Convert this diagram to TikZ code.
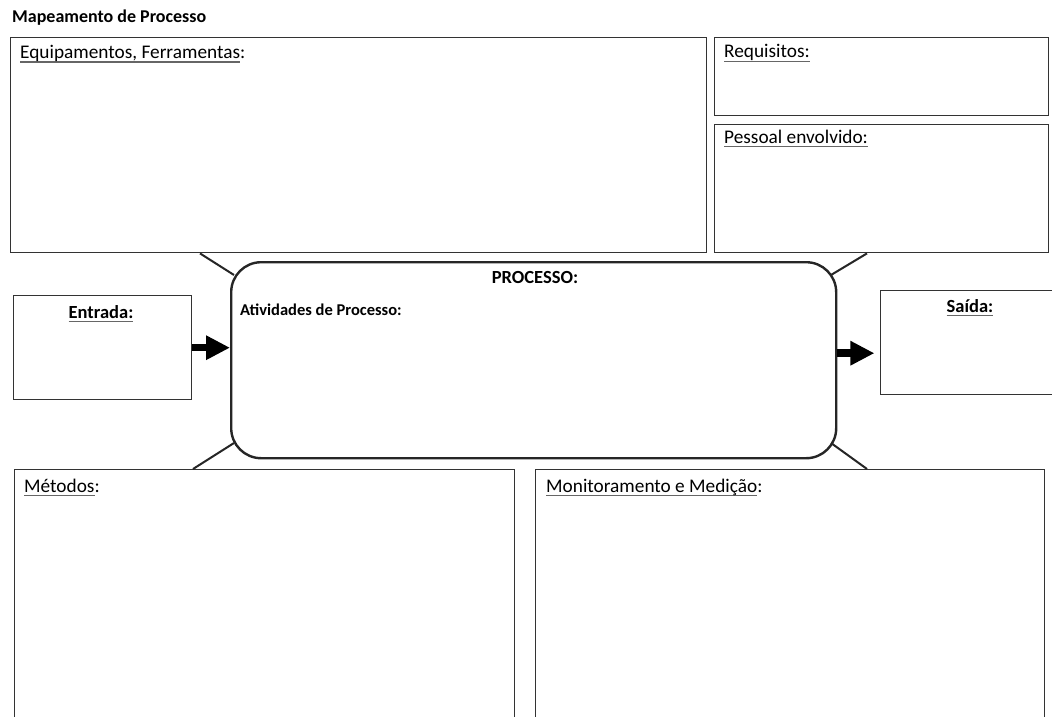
\documentclass[tikz,border=0pt]{standalone}
\usepackage{fontspec}
\setmainfont{Carlito}
\usetikzlibrary{arrows.meta,calc}
% underline at a fixed depth, so descenders do not push it down
\newcommand\undl[1]{\setbox0=\hbox{#1}\rlap{\color{black!60}\rule[-3.6pt]{\wd0}{1.1pt}}\box0}
\begin{document}
\begin{tikzpicture}[x=1pt,y=-1pt,
  box/.style={draw=black!80, line width=1.4pt, rectangle, anchor=north west, inner sep=0pt},
  procbox/.style={draw=black!85, line width=2.4pt, rectangle, rounded corners=30pt, anchor=north west, inner sep=0pt},
  txt/.style={anchor=base west, inner sep=0pt, font=\fontsize{19.3}{23}\selectfont},
  link/.style={draw=black!85, line width=2pt},
  flow/.style={line width=7.5pt, -{Triangle[length=24pt,width=23pt]}}]
\useasboundingbox (0,0) rectangle (1052,717);
\clip (0,0) rectangle (1052,717);

% title
\node[txt, font=\fontsize{18}{22}\selectfont\bfseries] (title) at (12,23) {Mapeamento de Processo};

% upper boxes
\node[box, minimum width=696pt, minimum height=215pt] (equip) at (10,37) {};
\node[box, minimum width=334pt, minimum height=78pt] (req) at (714,37) {};
\node[box, minimum width=334pt, minimum height=128pt] (pess) at (714,124) {};

% middle row
\node[box, minimum width=178pt, minimum height=104pt] (entr) at (13,295) {};
\node[procbox, minimum width=605pt, minimum height=196pt] (proc) at (230,261) {};
\node[box, minimum width=220pt, minimum height=104pt] (said) at (880,290) {};

% lower boxes (they run on past the lower edge)
\node[box, minimum width=500pt, minimum height=300pt] (meto) at (14,469) {};
\node[box, minimum width=509pt, minimum height=300pt] (moni) at (535,469) {};

% labels
\node[txt] (lequip) at (20,59) {\undl{Equipamentos, Ferramentas}:};
\node[txt] (lreq) at (724,58) {\undl{Requisitos:}};
\node[txt] (lpess) at (724,143) {\undl{Pessoal envolvido:}};
\node[txt, anchor=base, font=\fontsize{18.5}{22}\selectfont\bfseries] (lproc) at (535,283) {PROCESSO:};
\node[txt, font=\fontsize{16.5}{20}\selectfont\bfseries] (lativ) at (240,315) {Atividades de Processo:};
\node[txt, anchor=base, font=\fontsize{18.5}{22}\selectfont\bfseries] (lentr) at (101,318) {\undl{Entrada:}};
\node[txt, anchor=base, font=\fontsize{18.5}{22}\selectfont\bfseries] (lsaid) at (970,312) {\undl{Saída:}};
\node[txt] (lmeto) at (24,492) {\undl{Métodos}:};
\node[txt] (lmoni) at (546,492) {\undl{Monitoramento e Medição}:};

% corner links between the process and the surrounding boxes
\coordinate (ptl) at (234,275);
\coordinate (ptr) at (831,275);
\coordinate (pbl) at (234,443);
\coordinate (pbr) at (831,443);
\coordinate (etl) at (equip.south west -| 200,0);
\coordinate (etr) at (pess.south west -| 867,0);
\coordinate (ebl) at (meto.north west -| 193,0);
\coordinate (ebr) at (moni.north west -| 867,0);
\draw[link] (etl) -- (ptl);
\draw[link] (etr) -- (ptr);
\draw[link] (ebl) -- (pbl);
\draw[link] (ebr) -- (pbr);

% input and output arrows
\draw[flow] (entr.east) -- (entr.east -| proc.west);
\coordinate (outA) at ($(proc.east)+(0,-7)$);
\coordinate (outB) at ($(proc.east)+(37,-7)$);
\draw[flow] (outA) -- (outB);
\end{tikzpicture}
\end{document}
